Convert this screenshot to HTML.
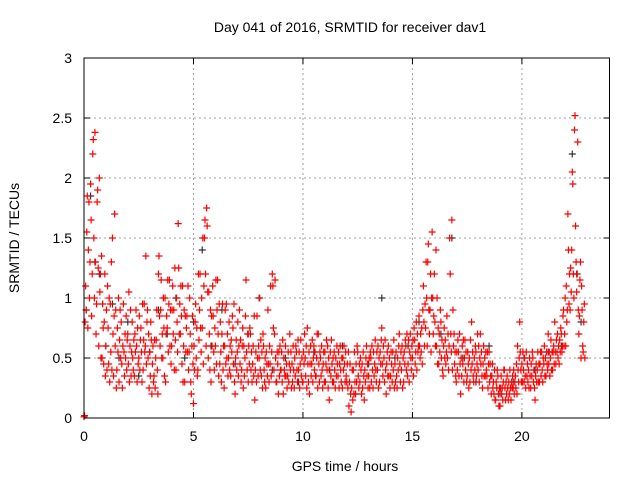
<!DOCTYPE html>
<html><head><meta charset="utf-8"><style>
body{margin:0;background:#fff;}
svg{display:block;font-family:"Liberation Sans",sans-serif;}
</style></head><body>
<svg id="chart" width="640" height="480">
<text x="350" y="32" font-size="14" text-anchor="middle">Day 041 of 2016, SRMTID for receiver dav1</text>
<text x="345" y="471" font-size="14" text-anchor="middle">GPS time / hours</text>
<text transform="translate(19,238) rotate(-90)" font-size="14" text-anchor="middle">SRMTID / TECUs</text>
<g id="grid"></g>
<g id="ticks"></g>
<g id="black"></g>
<g id="red"></g>
<rect x="84" y="58" width="525.5" height="360" fill="none" stroke="#000" stroke-width="1"/>
</svg>
<script>
const xTicks=[0,5,10,15,20];
const yTicks=[0,0.5,1,1.5,2,2.5,3];
const yTickLabels=["0","0.5","1","1.5","2","2.5","3"];
const blackPts=[[0.1,0.9],[0.3,1.85],[0.5,1.3],[0.7,1.2],[1.0,0.6],[1.3,0.95],[1.6,0.5],[2.0,0.8],[2.5,0.35],[3.0,0.55],[3.4,0.9],[3.8,0.7],[4.2,1.0],[4.6,0.5],[5.0,0.8],[5.4,1.4],[5.8,0.6],[6.3,0.9],[6.9,0.45],[7.5,0.7],[8.0,1.0],[8.6,0.4],[9.2,0.5],[9.8,0.3],[10.5,0.55],[11.2,0.4],[11.8,0.6],[12.4,0.2],[13.0,0.45],[13.6,1.0],[14.2,0.5],[14.8,0.6],[15.3,0.8],[15.8,0.9],[16.3,0.7],[16.8,1.5],[17.3,0.5],[17.9,0.3],[18.5,0.6],[19.0,0.2],[19.6,0.3],[20.1,0.5],[20.6,0.4],[21.2,0.55],[21.8,0.6],[22.3,2.2],[22.5,1.2],[22.7,0.8]];
// Red series: one bin per 0.1 h starting at 0 h; values in TECU x 100
const redBinStart=0;
const redBinWidth=0.1;
const redBins=[
[1,2,80,110],[90,155,185,75],[140,180,100,130],[195,165,85,120],[220,232,150,100],[238,130,70,95],[180,190,125,60],[200,105,120,50],[135,50,95,75],[45,80,120,35],
[60,90,40,110],[75,45,100,30],[95,55,130,40],[150,70,35,85],[170,60,90,25],[40,75,55,100],[30,65,90,50],[80,45,25,60],[95,55,35,70],[50,85,40,65],
[70,45,105,30],[60,90,35,55],[80,50,40,65],[35,70,55,90],[60,30,75,45],[50,85,40,65],[75,55,30,95],[40,65,95,55],[60,135,45,80],[90,50,70,25],
[55,35,80,65],[20,45,60,30],[35,65,25,50],[65,90,40,20],[120,135,85,60],[90,115,50,70],[50,100,75,35],[100,30,70,85],[75,115,55,95],[115,60,90,45],
[60,90,110,70],[90,40,125,65],[40,100,80,55],[162,125,70,95],[70,110,85,45],[110,30,60,90],[30,85,55,75],[85,55,110,40],[55,100,70,30],[20,60,85,45],
[12,60,40,80],[95,50,75,35],[40,120,65,90],[120,75,55,100],[75,150,45,110],[150,165,120,60],[175,160,105,50],[105,70,40,90],[30,85,60,110],[85,55,40,75],
[60,115,45,90],[115,70,35,95],[45,80,55,30],[70,95,40,60],[25,60,90,45],[95,50,70,35],[50,80,40,60],[35,65,55,85],[75,45,95,30],[20,50,65,40],
[55,80,35,60],[90,45,65,30],[40,60,75,25],[60,35,50,85],[115,55,40,70],[30,60,45,75],[70,40,55,30],[45,60,35,85],[15,40,55,30],[85,50,35,60],
[50,100,40,65],[35,55,25,70],[60,40,30,50],[25,55,45,35],[90,45,30,60],[45,110,35,55],[120,110,75,40],[70,115,50,30],[30,55,45,20],[55,35,60,40],
[40,55,30,65],[20,50,40,35],[60,35,45,25],[35,55,30,45],[70,40,55,25],[45,30,60,40],[25,50,35,60],[55,40,30,65],[40,55,25,45],[65,35,50,30],
[30,55,45,70],[50,35,60,25],[75,45,30,55],[20,45,60,35],[45,65,30,50],[60,40,55,35],[35,50,70,25],[70,45,30,55],[50,35,60,40],[25,45,55,30],
[55,30,45,65],[40,60,25,50],[15,40,55,35],[65,45,30,50],[30,55,40,25],[50,35,60,45],[35,55,25,45],[60,40,30,50],[25,50,40,60],[45,30,55,35],
[30,45,25,55],[10,30,45,20],[5,25,40,15],[40,20,55,30],[20,45,30,60],[55,35,25,45],[30,50,40,20],[45,25,55,35],[15,40,30,50],[60,35,45,25],
[35,50,25,55],[50,30,60,40],[25,55,35,45],[65,40,30,55],[40,60,25,50],[30,55,45,65],[75,45,35,60],[50,30,65,40],[20,45,55,35],[60,35,50,25],
[35,55,45,30],[55,40,65,25],[45,30,55,35],[25,50,40,60],[70,45,30,55],[40,60,25,50],[30,55,45,65],[60,40,70,35],[45,65,30,55],[70,50,40,60],
[50,65,35,75],[65,45,55,80],[40,70,55,60],[85,60,50,70],[55,75,45,90],[110,80,60,95],[75,130,100,60],[130,145,90,70],[90,120,55,100],[155,100,70,85],
[120,80,60,140],[60,100,45,75],[45,70,55,90],[80,50,65,40],[35,60,75,50],[65,45,55,85],[50,70,40,60],[150,120,70,55],[165,40,90,60],[70,45,55,35],
[30,55,40,65],[55,35,70,45],[20,50,35,60],[45,65,30,50],[65,40,55,30],[35,55,45,25],[50,30,65,40],[80,45,55,35],[30,50,40,60],[55,35,45,70],
[40,60,30,50],[70,45,55,35],[25,45,60,35],[50,35,55,40],[35,55,25,45],[55,30,45,35],[20,35,45,25],[30,20,40,15],[15,30,25,40],[35,20,10,25],
[10,25,35,20],[25,15,30,40],[40,25,15,30],[20,35,25,15],[30,20,40,25],[15,30,25,35],[25,40,20,30],[35,25,45,20],[60,40,30,50],[80,55,40,30],
[45,30,55,40],[30,50,35,25],[55,35,45,30],[40,25,50,35],[25,45,35,55],[50,30,40,25],[15,35,45,30],[40,55,30,45],[30,45,55,35],[55,40,30,50],
[45,60,35,50],[35,55,45,40],[70,45,55,35],[50,65,40,55],[40,55,60,45],[80,55,45,65],[55,70,50,60],[45,65,55,75],[70,55,60,85],[90,60,70,100],
[60,110,80,90],[170,140,95,120],[90,125,105,140],[205,195,120,100],[240,252,160,130],[105,120,230,90],[70,85,115,130],[50,110,90,60],[55,80,95,50]
];

const ns="http://www.w3.org/2000/svg";
const X0=84,X1=609.5,Y0=418,Y1=58;
function xs(t){return X0+(t/24)*(X1-X0);}
function ys(v){return Y0-(v/3)*(Y0-Y1);}
function mk(tag,attrs,parent){const e=document.createElementNS(ns,tag);for(const k in attrs)e.setAttribute(k,attrs[k]);parent.appendChild(e);return e;}
const grid=document.getElementById('grid'),ticks=document.getElementById('ticks');
xTicks.forEach(t=>{
  const x=xs(t);
  if(t>0){const g=mk('line',{x1:x,x2:x,y1:Y1,y2:Y0,stroke:'#a0a0a0','stroke-dasharray':'2,3'},grid);
  
  }
  mk('line',{x1:x,x2:x,y1:Y0,y2:Y0-6,stroke:'#000'},ticks);
  mk('line',{x1:x,x2:x,y1:Y1,y2:Y1+6,stroke:'#000'},ticks);
  const l=mk('text',{x:x,y:Y0+23,'font-size':14,'text-anchor':'middle'},ticks);
  l.textContent=t;
  
  
});
yTicks.forEach((v,i)=>{
  const y=ys(v);
  if(v>0&&v<3){const g=mk('line',{x1:X0,x2:X1,y1:y,y2:y,stroke:'#a0a0a0','stroke-dasharray':'2,3'},grid);
  
  }
  mk('line',{x1:X0,x2:X0+6,y1:y,y2:y,stroke:'#000'},ticks);
  mk('line',{x1:X1,x2:X1-6,y1:y,y2:y,stroke:'#000'},ticks);
  const l=mk('text',{x:X0-12,y:y+5,'font-size':14,'text-anchor':'end'},ticks);
  l.textContent=yTickLabels[i];
  
  
});
function plus(parent,t,v,color,name){
  const x=xs(t),y=ys(v);
  const p=mk('path',{d:`M${x-3.5} ${y}H${x+3.5}M${x} ${y-3.5}V${y+3.5}`,stroke:color,'stroke-width':1.2,fill:'none'},parent);
  
  
}
const bg=document.getElementById('black'),rg=document.getElementById('red');
blackPts.forEach(p=>plus(bg,p[0],p[1],'#333','black-point'));
redBins.forEach((vals,i)=>{
  vals.forEach((v,j)=>{
    const t=redBinStart+i*redBinWidth+j*redBinWidth/vals.length;
    plus(rg,t,v/100,'#ff0000','red-point');
  });
});
</script>
</body></html>
